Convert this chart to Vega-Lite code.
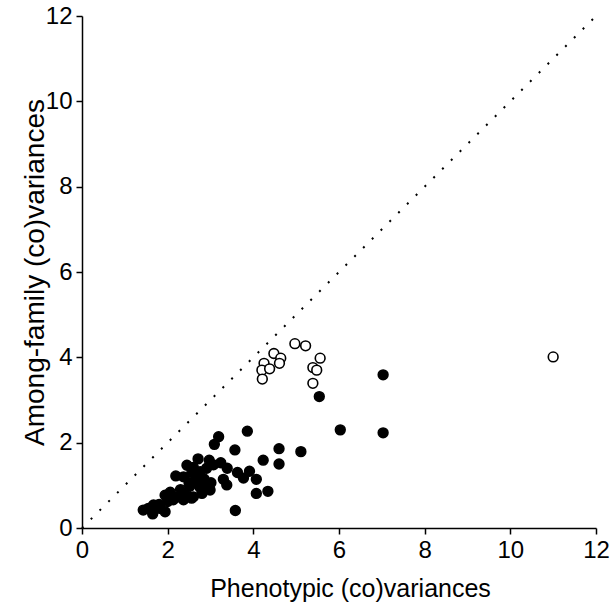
{
  "$schema": "https://vega.github.io/schema/vega-lite/v6.json",
  "autosize": "none",
  "padding": {"left": 82, "top": 16, "right": 15, "bottom": 80},
  "width": 514,
  "height": 512,
  "background": "white",
  "config": {
    "font": "Liberation Sans",
    "view": {"stroke": null},
    "axis": {
      "grid": false,
      "domainColor": "black",
      "domainWidth": 1.5,
      "tickColor": "black",
      "tickWidth": 1.5,
      "tickSize": 6,
      "labelColor": "black",
      "labelFontSize": 24,
      "labelFlush": false,
      "labelFont": "Liberation Sans",
      "titleFont": "Liberation Sans",
      "titleFontWeight": "normal",
      "titleColor": "black"
    }
  },
  "datasets": {
    "pts": [
      {"px": 4.48, "py": 4.09, "type": "open"},
      {"px": 4.64, "py": 3.98, "type": "open"},
      {"px": 4.61, "py": 3.86, "type": "open"},
      {"px": 4.25, "py": 3.86, "type": "open"},
      {"px": 4.2, "py": 3.7, "type": "open"},
      {"px": 4.38, "py": 3.73, "type": "open"},
      {"px": 4.21, "py": 3.49, "type": "open"},
      {"px": 4.97, "py": 4.32, "type": "open"},
      {"px": 5.22, "py": 4.27, "type": "open"},
      {"px": 5.56, "py": 3.98, "type": "open"},
      {"px": 5.39, "py": 3.76, "type": "open"},
      {"px": 5.48, "py": 3.7, "type": "open"},
      {"px": 5.39, "py": 3.39, "type": "open"},
      {"px": 11.0, "py": 4.01, "type": "open"},
      {"px": 5.54, "py": 3.08, "type": "filled"},
      {"px": 7.03, "py": 3.59, "type": "filled"},
      {"px": 6.03, "py": 2.3, "type": "filled"},
      {"px": 7.03, "py": 2.23, "type": "filled"},
      {"px": 5.11, "py": 1.79, "type": "filled"},
      {"px": 3.19, "py": 2.14, "type": "filled"},
      {"px": 3.09, "py": 1.96, "type": "filled"},
      {"px": 3.86, "py": 2.27, "type": "filled"},
      {"px": 3.57, "py": 1.83, "type": "filled"},
      {"px": 4.6, "py": 1.86, "type": "filled"},
      {"px": 4.23, "py": 1.59, "type": "filled"},
      {"px": 4.6, "py": 1.5, "type": "filled"},
      {"px": 2.71, "py": 1.62, "type": "filled"},
      {"px": 2.97, "py": 1.59, "type": "filled"},
      {"px": 3.24, "py": 1.53, "type": "filled"},
      {"px": 3.39, "py": 1.4, "type": "filled"},
      {"px": 2.45, "py": 1.47, "type": "filled"},
      {"px": 2.6, "py": 1.42, "type": "filled"},
      {"px": 2.19, "py": 1.22, "type": "filled"},
      {"px": 2.37, "py": 1.2, "type": "filled"},
      {"px": 2.56, "py": 1.28, "type": "filled"},
      {"px": 2.76, "py": 1.32, "type": "filled"},
      {"px": 2.91, "py": 1.4, "type": "filled"},
      {"px": 3.07, "py": 1.48, "type": "filled"},
      {"px": 3.63, "py": 1.3, "type": "filled"},
      {"px": 3.91, "py": 1.33, "type": "filled"},
      {"px": 4.07, "py": 1.14, "type": "filled"},
      {"px": 3.77, "py": 1.17, "type": "filled"},
      {"px": 3.3, "py": 1.14, "type": "filled"},
      {"px": 3.38, "py": 1.01, "type": "filled"},
      {"px": 3.01, "py": 1.06, "type": "filled"},
      {"px": 2.91, "py": 0.97, "type": "filled"},
      {"px": 2.76, "py": 0.95, "type": "filled"},
      {"px": 2.52, "py": 0.98, "type": "filled"},
      {"px": 2.68, "py": 1.12, "type": "filled"},
      {"px": 2.06, "py": 0.84, "type": "filled"},
      {"px": 1.94, "py": 0.77, "type": "filled"},
      {"px": 2.25, "py": 0.73, "type": "filled"},
      {"px": 2.45, "py": 0.77, "type": "filled"},
      {"px": 2.6, "py": 0.73, "type": "filled"},
      {"px": 2.8, "py": 0.81, "type": "filled"},
      {"px": 2.99, "py": 0.89, "type": "filled"},
      {"px": 4.07, "py": 0.81, "type": "filled"},
      {"px": 4.34, "py": 0.86, "type": "filled"},
      {"px": 3.58, "py": 0.41, "type": "filled"},
      {"px": 1.43, "py": 0.42, "type": "filled"},
      {"px": 1.55, "py": 0.46, "type": "filled"},
      {"px": 1.67, "py": 0.54, "type": "filled"},
      {"px": 1.65, "py": 0.33, "type": "filled"},
      {"px": 1.82, "py": 0.46, "type": "filled"},
      {"px": 1.94, "py": 0.38, "type": "filled"},
      {"px": 2.13, "py": 0.66, "type": "filled"},
      {"px": 2.37, "py": 0.66, "type": "filled"},
      {"px": 2.56, "py": 0.7, "type": "filled"},
      {"px": 2.3, "py": 0.9, "type": "filled"},
      {"px": 2.5, "py": 1.05, "type": "filled"},
      {"px": 2.7, "py": 1.25, "type": "filled"},
      {"px": 2.85, "py": 1.15, "type": "filled"},
      {"px": 1.8, "py": 0.55, "type": "filled"},
      {"px": 2.0, "py": 0.62, "type": "filled"},
      {"px": 2.1, "py": 0.75, "type": "filled"}
    ],
    "diag": [
      {"px": 0, "py": 0},
      {"px": 12, "py": 12}
    ]
  },
  "layer": [
    {
      "data": {"name": "diag"},
      "mark": {"type": "line", "color": "black", "strokeWidth": 2, "strokeDash": [2, 10.4], "strokeCap": "butt"},
      "encoding": {
        "x": {"field": "px", "type": "quantitative"},
        "y": {"field": "py", "type": "quantitative"}
      }
    },
    {
      "data": {"name": "pts"},
      "mark": {"type": "point", "shape": "circle", "filled": true, "stroke": "black", "strokeWidth": 1.6, "size": 95, "opacity": 1},
      "encoding": {
        "x": {
          "field": "px", "type": "quantitative",
          "scale": {"domain": [0, 12], "nice": false, "zero": true},
          "axis": {"values": [0, 2, 4, 6, 8, 10, 12], "title": "Phenotypic (co)variances", "titleFontSize": 25, "titlePadding": 14, "titleX": 268, "labelPadding": 4}
        },
        "y": {
          "field": "py", "type": "quantitative",
          "scale": {"domain": [0, 12], "nice": false, "zero": true},
          "axis": {"values": [0, 2, 4, 6, 8, 10, 12], "title": "Among-family (co)variances", "titleFontSize": 28, "titlePadding": -4, "labelPadding": 4}
        },
        "fill": {
          "field": "type", "type": "nominal",
          "scale": {"domain": ["filled", "open"], "range": ["black", "white"]},
          "legend": null
        }
      }
    }
  ]
}
